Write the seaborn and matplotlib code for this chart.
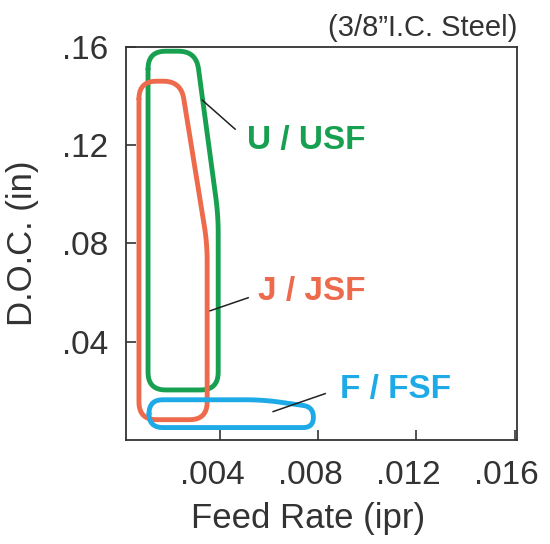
import numpy as np
import pandas as pd
import seaborn as sns
import matplotlib.pyplot as plt
import matplotlib.transforms as mtransforms

# region outlines (feed rate ipr, depth of cut in)
u_feed = [0.00106, 0.00302, 0.00392, 0.00392, 0.00106]
u_doc = [0.1582, 0.1582, 0.0915, 0.0204, 0.0204]
j_feed = [0.00069, 0.00240, 0.00347, 0.00347, 0.00069]
j_doc = [0.1460, 0.1460, 0.0800, 0.0083, 0.0083]
f_feed = [0.00110, 0.00575, 0.00780, 0.00780, 0.00110]
f_doc = [0.0164, 0.0164, 0.0135, 0.0051, 0.0051]

labels = ["U / USF", "J / JSF", "F / FSF"]
label_feed = [0.0051, 0.00555, 0.0089]
label_doc = [0.122, 0.0605, 0.0205]
leader_feed = [(0.00327, 0.00461), (0.00359, 0.00514), (0.00616, 0.00828)]
leader_doc = [(0.1383, 0.1265), (0.0526, 0.0579), (0.0116, 0.0189)]

xticks = [0.004, 0.008, 0.012, 0.016]
xticklabels = [".004", ".008", ".012", ".016"]
yticks = [0.04, 0.08, 0.12, 0.16]
yticklabels = [".04", ".08", ".12", ".16"]

colors = ["#17a050", "#ee6a4d", "#1eaae6"]
XLIM = (0.00016, 0.0161)
YLIM = (0.0, 0.16)


def rounded(xs, ys, r=0.045, n=12):
    # round the corners of a closed outline, working in axis fractions
    sx = XLIM[1] - XLIM[0]
    sy = YLIM[1] - YLIM[0]
    pts = np.column_stack([(np.array(xs) - XLIM[0]) / sx, (np.array(ys) - YLIM[0]) / sy])
    k = len(pts)
    out = []
    for i in range(k):
        p0, p1, p2 = pts[i - 1], pts[i], pts[(i + 1) % k]
        d_in = p1 - p0
        d_out = p2 - p1
        rr = min(r, np.linalg.norm(d_in) / 2, np.linalg.norm(d_out) / 2)
        a = p1 - d_in / np.linalg.norm(d_in) * rr
        b = p1 + d_out / np.linalg.norm(d_out) * rr
        t = np.linspace(0, 1, n)[:, None]
        out.append((1 - t) ** 2 * a + 2 * (1 - t) * t * p1 + t ** 2 * b)
    out = np.vstack(out + [out[0][:1]])
    return out[:, 0] * sx + XLIM[0], out[:, 1] * sy + YLIM[0]


plt.rcParams["font.family"] = ["Liberation Sans", "DejaVu Sans"]
fig = plt.figure(figsize=(5.5, 5.44), dpi=100)
ax = fig.add_axes([0.229, 0.191, 0.711, 0.723])

shapes = [(u_feed, u_doc), (j_feed, j_doc), (f_feed, f_doc)]
for (fx, dy), c in zip(shapes, colors):
    rx, ry = rounded(fx, dy)
    df = pd.DataFrame({"feed": rx, "doc": ry})
    sns.lineplot(data=df, x="feed", y="doc", sort=False, estimator=None,
                 color=c, linewidth=3.5, ax=ax, solid_capstyle="round")

for lab, lx, ly, fx, dy, c in zip(labels, label_feed, label_doc, leader_feed, leader_doc, colors):
    ax.plot(fx, dy, color="#222222", linewidth=1.1)
    ax.text(lx, ly, lab, color=c, fontsize=24, fontweight="bold", va="center", ha="left")

ax.set_xlim(*XLIM)
ax.set_ylim(*YLIM)
ax.set_xticks(xticks)
ax.set_xticklabels(xticklabels)
ax.set_yticks(yticks)
ax.set_yticklabels(yticklabels)
ax.tick_params(direction="in", length=7, width=1.2, colors="#333333",
               labelsize=24, labelcolor="#333333")
ax.tick_params(axis="x", pad=14)
ax.tick_params(axis="y", pad=13)
shift = mtransforms.ScaledTranslation(-8 / 100, 0, fig.dpi_scale_trans)
for t in ax.get_xticklabels():
    t.set_transform(t.get_transform() + shift)

for s in ax.spines.values():
    s.set_color("#333333")
    s.set_linewidth(1.3)

ax.set_xlabel("Feed Rate (ipr)", fontsize=25, color="#333333")
ax.xaxis.set_label_coords(0.465, -0.157)
ax.set_ylabel("D.O.C. (in)", fontsize=25, color="#333333", labelpad=16)
ax.set_title("(3/8\u201dI.C. Steel)", fontsize=21, color="#333333", loc="right", pad=8)

fig.savefig("out.png", dpi=100)
